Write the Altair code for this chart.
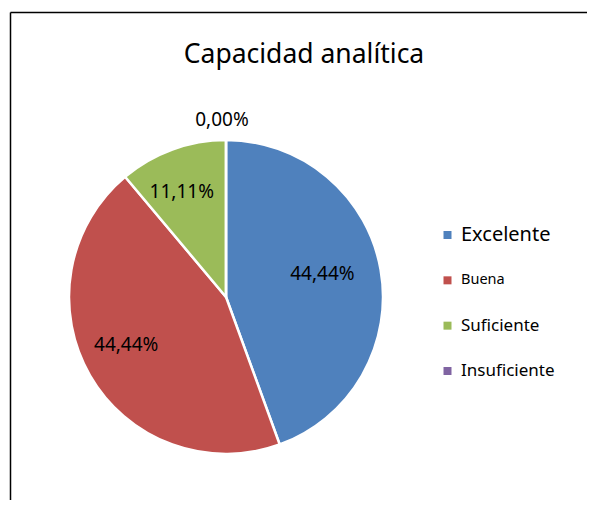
import altair as alt
import pandas as pd

categories = ["Excelente", "Buena", "Suficiente", "Insuficiente"]
values = [44.44, 44.44, 11.11, 0.0]
labels = ["44,44%", "44,44%", "11,11%", "0,00%"]
colors = ["#4F81BD", "#C0504D", "#9BBB59", "#8064A2"]
legend_font_sizes = [20, 14.5, 17, 17]
title_text = "Capacidad analítica"

df = pd.DataFrame({"cat": categories, "val": values, "label": labels,
                   "order": list(range(len(categories)))})

FONT = "Noto Sans"
CX, CY, R = 218, 289, 157

color = alt.Color("cat:N", scale=alt.Scale(domain=categories, range=colors), legend=None)

base = alt.Chart(df)

pie = base.mark_arc(outerRadius=R, stroke="white", strokeWidth=2.5).encode(
    theta=alt.Theta("val:Q", stack=True),
    color=color,
    order=alt.Order("order:Q"),
    x=alt.value(CX), y=alt.value(CY),
)

inner_labels = base.transform_filter(alt.datum.val > 0).mark_text(
    radius=106, font=FONT, fontSize=19, color="black", align="center", baseline="middle",
    dx=-8, dy=-5
).encode(
    theta=alt.Theta("val:Q", stack=True),
    order=alt.Order("order:Q"),
    text="label:N",
    x=alt.value(CX), y=alt.value(CY),
)

zero_label = base.mark_text(
    font=FONT, fontSize=19, color="black", align="center", baseline="middle", dx=-4
).encode(
    theta=alt.Theta("val:Q", stack=True),
    order=alt.Order("order:Q"),
    radius=alt.value(177),
    text=alt.condition(alt.datum.val == 0, "label:N", alt.value("")),
    x=alt.value(CX), y=alt.value(CY),
)

ys = alt.Y("order:Q", scale=alt.Scale(domain=[0, 3], range=[227, 363]), axis=None)

leg_sq = base.mark_square(size=64, opacity=1).encode(
    x=alt.value(439.5), y=ys, color=color,
)
leg_txt = base.mark_text(font=FONT, align="left", baseline="middle", color="black").encode(
    x=alt.value(453), y=ys, text="cat:N",
    size=alt.Size("cat:N", scale=alt.Scale(type="ordinal", domain=categories, range=legend_font_sizes),
                  legend=None),
)

title = alt.Chart(pd.DataFrame({"t": [title_text]})).mark_text(
    font=FONT, fontSize=26.5, color="black", align="center", baseline="middle"
).encode(x=alt.value(296), y=alt.value(47), text="t:N")

frame_left = alt.Chart(pd.DataFrame({"a": [0]})).mark_rule(color="black", strokeWidth=1.5).encode(
    x=alt.value(2.5), y=alt.value(4.5), y2=alt.value(492))
frame_top = alt.Chart(pd.DataFrame({"a": [0]})).mark_rule(color="black", strokeWidth=1.5).encode(
    x=alt.value(2.5), x2=alt.value(579), y=alt.value(4.5))

chart = alt.layer(pie, inner_labels, zero_label, leg_sq, leg_txt, title, frame_left, frame_top).resolve_scale(
    theta="independent"
).properties(
    width=579, height=492, padding=0, autosize=alt.AutoSizeParams(type="none")
).configure_view(stroke=None)

chart.save("out.html", embed_options={"renderer": "svg", "actions": False})
